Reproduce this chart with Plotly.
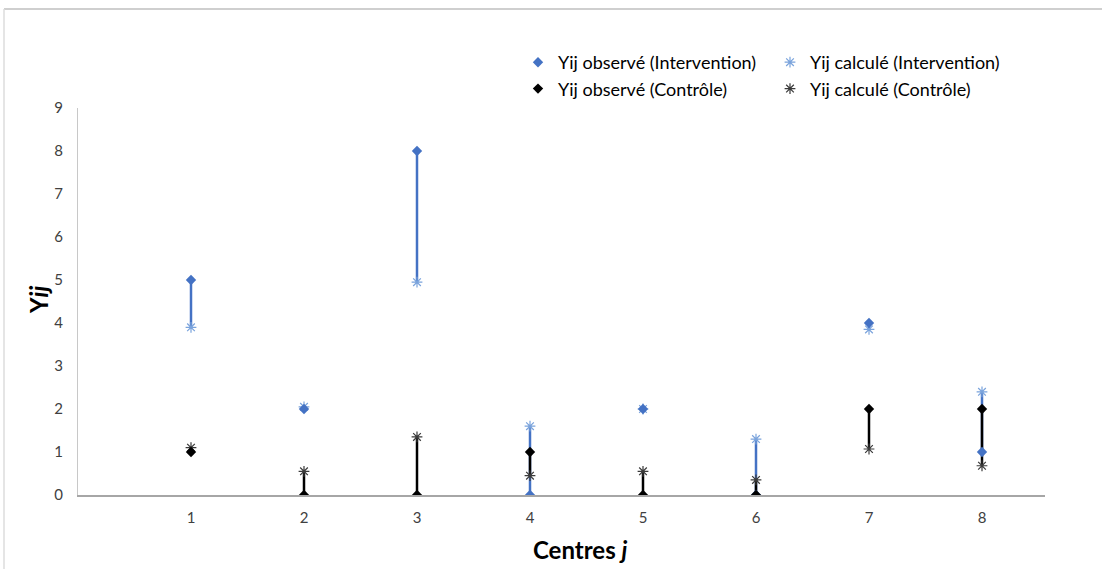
import plotly.graph_objects as go

centres = [1, 2, 3, 4, 5, 6, 7, 8]
obs_intervention = [5, 2, 8, 0, 2, 0, 4, 1]
calc_intervention = [3.9, 2.05, 4.95, 1.6, 2.0, 1.3, 3.85, 2.4]
obs_controle = [1, 0, 0, 1, 0, 0, 2, 2]
calc_controle = [1.1, 0.55, 1.35, 0.45, 0.55, 0.35, 1.07, 0.68]

x_ticks = [1, 2, 3, 4, 5, 6, 7, 8]
y_ticks = [0, 1, 2, 3, 4, 5, 6, 7, 8, 9]

BLUE = "#4472c4"
LIGHT_BLUE = "#7aa3dc"
BLACK = "#000000"
DARK = "#3a3a3a"
FONT = "Lato"

# plot area in pixels
W, H = 1102, 569
L, R, T, B = 78, 1045, 108, 495


def segs(xs, a, b):
    sx, sy = [], []
    for x, y0, y1 in zip(xs, a, b):
        sx += [x, x, None]
        sy += [y0, y1, None]
    return sx, sy


fig = go.Figure()

sx, sy = segs(centres, obs_intervention, calc_intervention)
fig.add_trace(go.Scatter(x=sx, y=sy, mode="lines", line=dict(color=BLUE, width=2.5),
                         showlegend=False, hoverinfo="skip"))
sx, sy = segs(centres, obs_controle, calc_controle)
fig.add_trace(go.Scatter(x=sx, y=sy, mode="lines", line=dict(color=BLACK, width=2.5),
                         showlegend=False, hoverinfo="skip"))

fig.add_trace(go.Scatter(x=centres, y=calc_intervention, mode="markers",
                         name="Yij calculé (Intervention)", legend="legend2",
                         marker=dict(symbol="asterisk-open", size=9, color=LIGHT_BLUE,
                                     line=dict(color=LIGHT_BLUE, width=1.2))))
fig.add_trace(go.Scatter(x=centres, y=calc_controle, mode="markers",
                         name="Yij calculé (Contrôle)", legend="legend2",
                         marker=dict(symbol="asterisk-open", size=9, color=DARK,
                                     line=dict(color=DARK, width=1.2))))
fig.add_trace(go.Scatter(x=centres, y=obs_intervention, mode="markers",
                         name="Yij observé (Intervention)", legend="legend",
                         marker=dict(symbol="diamond", size=8, color=BLUE)))
fig.add_trace(go.Scatter(x=centres, y=obs_controle, mode="markers",
                         name="Yij observé (Contrôle)", legend="legend",
                         marker=dict(symbol="diamond", size=8, color=BLACK)))

pw, ph = R - L, B - T


def px_x(p):
    return (p - L) / pw


def px_y(p):
    return (B - p) / ph


leg_common = dict(orientation="v", bgcolor="rgba(0,0,0,0)",
                  font=dict(family=FONT, size=18, color="#000000"),
                  itemwidth=30, tracegroupgap=0, xanchor="left", yanchor="top",
                  traceorder="normal")

fig.update_layout(
    width=W, height=H,
    margin=dict(l=L, r=W - R, t=T, b=H - B, autoexpand=False),
    paper_bgcolor="white", plot_bgcolor="white",
    font=dict(family=FONT, color="#595959"),
    legend=dict(x=px_x(518), y=px_y(44), **leg_common),
    legend2=dict(x=px_x(770), y=px_y(44), **leg_common),
    xaxis=dict(range=[0, (R - L) / 113.0], tickvals=x_ticks, ticktext=[str(v) for v in x_ticks],
               showgrid=False, zeroline=False, showline=True, linecolor="#a6a6a6", linewidth=1.5,
               ticks="", ticklabelstandoff=8, tickfont=dict(size=15, color="#404040")),
    yaxis=dict(range=[0, 9], tickvals=y_ticks, showgrid=False, zeroline=False,
               showline=True, linecolor="#c8c8c8", linewidth=1,
               ticks="", ticklabelstandoff=11, tickfont=dict(size=15, color="#404040")),
    annotations=[
        dict(text="<b>Centres <i>j</i></b>", xref="paper", yref="paper",
             x=px_x(580), y=px_y(549), xanchor="center", yanchor="middle",
             showarrow=False, font=dict(family=FONT, size=24, color="#000000")),
        dict(text="<b>Y<i>ij</i></b>", xref="paper", yref="paper",
             x=px_x(38), y=px_y(300), xanchor="center", yanchor="middle", textangle=-90,
             showarrow=False, font=dict(family=FONT, size=24, color="#000000")),
    ],
    shapes=[
        dict(type="line", xref="paper", yref="paper", x0=px_x(4), x1=px_x(1102),
             y0=px_y(9), y1=px_y(9), line=dict(color="#cfcfcf", width=2)),
        dict(type="line", xref="paper", yref="paper", x0=px_x(4), x1=px_x(4),
             y0=px_y(9), y1=px_y(569), line=dict(color="#dcdcdc", width=1.5)),
    ],
)

fig.write_html("out.html", config={"displayModeBar": False},
               post_script="document.body.style.margin='0px';")
